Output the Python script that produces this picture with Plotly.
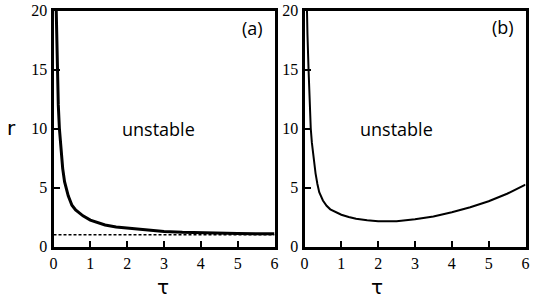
import plotly.graph_objects as go

# Panel (a): stability boundary r(tau)
tau_a = [0.06, 0.07, 0.1, 0.13, 0.16, 0.2, 0.25, 0.3, 0.4, 0.5, 0.6, 0.7, 0.8, 1.0,
         1.2, 1.4, 1.7, 2.0, 2.5, 3.0, 3.5, 4.0, 4.5, 5.0, 5.5, 6.0]
r_a = [22.0, 20.0, 15.0, 12.0, 10.0, 8.2, 6.6, 5.5, 4.3, 3.5, 3.1, 2.85, 2.6, 2.24,
       2.0, 1.82, 1.66, 1.56, 1.4, 1.27, 1.2, 1.15, 1.12, 1.1, 1.09, 1.08]
# asymptote r = 1
tau_dash = [0, 6]
r_dash = [1, 1]

# Panel (b)
tau_b = [0.055, 0.065, 0.08, 0.11, 0.14, 0.17, 0.2, 0.25, 0.3, 0.35, 0.4, 0.5, 0.6, 0.7,
         0.85, 1.0, 1.2, 1.4, 1.7, 2.0, 2.5, 3.0, 3.5, 4.0, 4.5, 5.0, 5.5, 6.0]
r_b = [22.0, 20.0, 18.0, 15.0, 12.0, 10.0, 8.8, 7.4, 6.2, 5.3, 4.6, 3.9, 3.45, 3.15,
       2.9, 2.69, 2.5, 2.35, 2.22, 2.15, 2.14, 2.3, 2.54, 2.9, 3.33, 3.84, 4.47, 5.25]

x_ticks = [0, 1, 2, 3, 4, 5, 6]
y_ticks = [0, 5, 10, 15, 20]

W, H = 546, 308


def px_x(v):
    return v / W


def px_y(v):
    return 1 - v / H


fig = go.Figure()
fig.add_trace(go.Scatter(x=tau_a, y=r_a, mode="lines", line=dict(color="black", width=3),
                         xaxis="x", yaxis="y", showlegend=False))
fig.add_trace(go.Scatter(x=tau_dash, y=r_dash, mode="lines",
                         line=dict(color="black", width=1.5, dash="3px,2px"),
                         xaxis="x", yaxis="y", showlegend=False))
fig.add_trace(go.Scatter(x=tau_b, y=r_b, mode="lines", line=dict(color="black", width=2),
                         xaxis="x2", yaxis="y2", showlegend=False))

tickfont = dict(family="Liberation Serif", size=16, color="black")
ax_common = dict(ticks="inside", ticklen=6, tickwidth=2, tickcolor="black",
                 showline=True, linecolor="black", linewidth=3, mirror=True,
                 showgrid=False, zeroline=False, automargin=False, tickfont=tickfont)

fig.update_layout(
    width=W, height=H,
    margin=dict(l=0, r=0, t=0, b=0, pad=0, autoexpand=False),
    paper_bgcolor="white", plot_bgcolor="white",
    xaxis=dict(domain=[px_x(53.5), px_x(274.5)], anchor="y", range=[0, 6],
               tickvals=x_ticks, **ax_common),
    yaxis=dict(domain=[px_y(246.5), px_y(10.5)], anchor="x", range=[0, 20],
               tickvals=y_ticks, **ax_common),
    xaxis2=dict(domain=[px_x(304.5), px_x(525.5)], anchor="y2", range=[0, 6],
                tickvals=x_ticks, **ax_common),
    yaxis2=dict(domain=[px_y(246.5), px_y(10.5)], anchor="x2", range=[0, 20],
                tickvals=y_ticks, **ax_common),
    hovermode=False,
)


def add_text(x, y, text, font, xref="paper", yref="paper"):
    if xref == "paper":
        x, y = px_x(x), px_y(y)
    fig.add_annotation(x=x, y=y, xref=xref, yref=yref, text=text, showarrow=False,
                       xanchor="center", yanchor="middle", font=font)


ann_font = dict(family="Open Sans", size=18, color="black")
add_text(2.85, 10, "unstable", ann_font, "x", "y")
add_text(2.5, 10, "unstable", ann_font, "x2", "y2")
add_text(252, 28, "(a)", ann_font)
add_text(503, 27, "(b)", ann_font)
lab_font = dict(family="DejaVu Sans", size=20, color="black")
add_text(11, 128, "r", lab_font)
add_text(163, 287, "τ", lab_font)
add_text(377, 287, "τ", lab_font)

fig.write_html("out.html", config={"displayModeBar": False, "responsive": False},
               post_script="document.body.style.margin='0';")
